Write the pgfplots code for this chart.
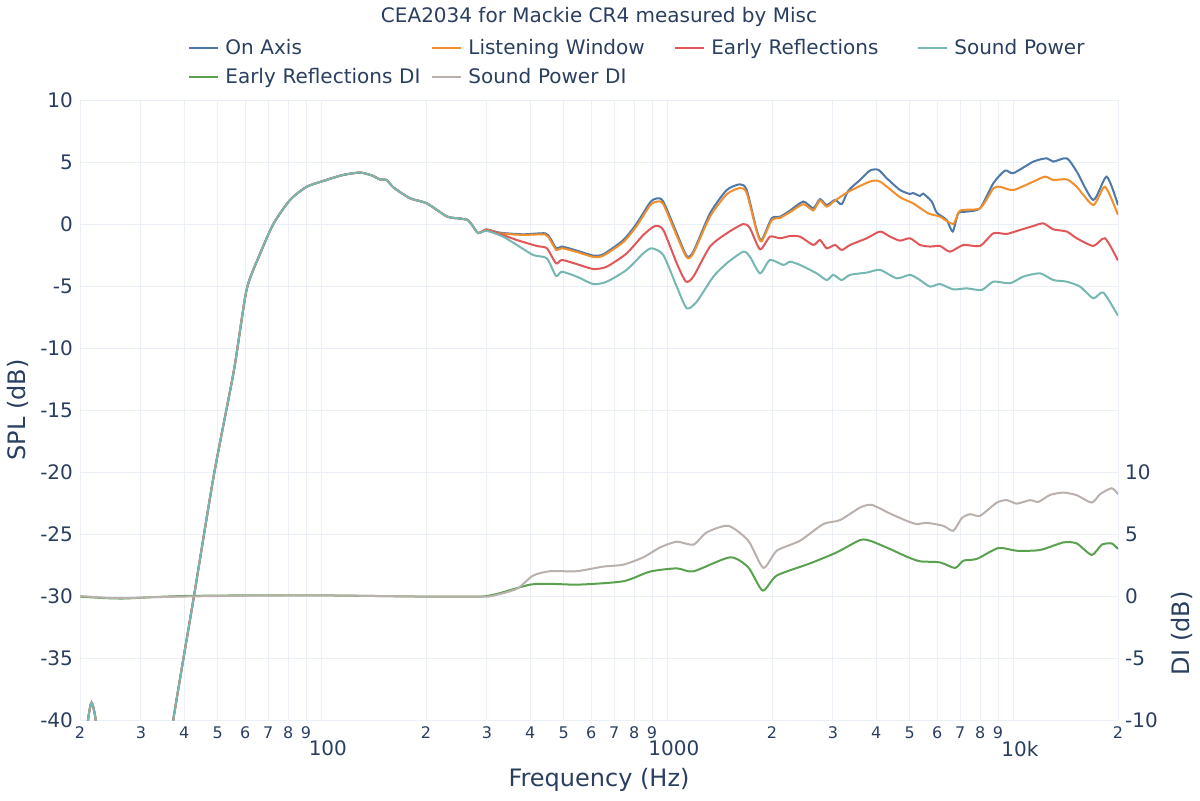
\documentclass[border=0pt]{standalone}
\usepackage{pgfplots}
\pgfplotsset{compat=1.18}
\usepackage{fontspec}
\setmainfont{DejaVu Sans}
\definecolor{onaxis}{HTML}{4E79A7}
\definecolor{lw}{HTML}{F28E2B}
\definecolor{er}{HTML}{E15759}
\definecolor{sp}{HTML}{76B7B2}
\definecolor{erdi}{HTML}{59A14F}
\definecolor{spdi}{HTML}{BAB0AC}
\definecolor{textc}{HTML}{2A3F5F}
\definecolor{gridc}{HTML}{EBF0F8}

\begin{document}
\begin{tikzpicture}
\path[use as bounding box] (0,0) rectangle (600pt,400pt);

\begin{axis}[
  at={(40pt,40pt)}, anchor=south west,
  scale only axis, width=519pt, height=310pt,
  xmode=log, xmin=20, xmax=20000,
  ymin=-40, ymax=10,
  axis line style={draw=none},
  major tick length=0pt, minor tick length=0pt,
  tick label style={color=textc},
  /pgf/number format/assume math mode=true,
  ytick={-40,-35,-30,-25,-20,-15,-10,-5,0,5,10},
  xtick={20,30,40,50,60,70,80,90,200,300,400,500,600,700,800,900,2000,3000,4000,5000,6000,7000,8000,9000,20000},
  xticklabels={2,3,4,5,6,7,8,9,2,3,4,5,6,7,8,9,2,3,4,5,6,7,8,9,2},
  extra x ticks={100,1000,10000},
  extra x tick labels={100,1000,10k},
  extra x tick style={grid=major, xticklabel style={yshift=-7pt, xshift=3pt, font=\fontsize{10}{12}\selectfont}},
  grid=major,
  major grid style={line width=0.5pt, color=gridc},
  xticklabel style={font=\fontsize{8}{10}\selectfont},
  yticklabel style={font=\fontsize{10}{12}\selectfont},
  xlabel={Frequency (Hz)},
  xlabel style={at={(axis description cs:0.5,0)}, anchor=center, yshift=-30pt, font=\fontsize{12}{14}\selectfont, color=textc},
  ylabel={SPL (dB)},
  ylabel style={at={(axis description cs:-0.0597,0.5)}, anchor=center, font=\fontsize{12}{14}\selectfont, color=textc},
  title={CEA2034 for Mackie CR4 measured by Misc},
  title style={at={(axis description cs:0.5,1)}, anchor=center, yshift=35.5pt, font=\fontsize{10}{12}\selectfont, color=textc},
  legend columns=4,
  legend style={at={(axis description cs:0.104,1.107)}, anchor=north west, draw=none, fill=none,
    inner sep=0pt, font=\fontsize{10}{12}\selectfont, text=textc,
    nodes={text width=100pt, inner xsep=3pt, inner ysep=2.6pt, align=left}},
  legend image code/.code={\draw[#1, line width=1pt] (0pt,0pt) -- (14.5pt,0pt);},
]
% On Axis
\addplot[onaxis, line width=1pt, smooth, tension=0.4] coordinates {
(20,-46) (20.5,-44) (21.1,-40) (21.6,-38.6) (22.2,-40) (22.8,-44) (26,-60) (33,-50)
(37.2,-40) (42.7,-30) (48.7,-20.3) (55.7,-11.8) (60.6,-5.3) (66.3,-2.4) (72.4,0.0)
(80.9,1.94) (90.4,3.0) (103,3.55) (115,3.95) (129,4.15) (140,3.9) (147,3.6) (154,3.55)
(161,2.95) (180,2.07) (201,1.67) (230,0.6) (250,0.45) (264,0.32) (272,-0.1) (283,-0.73) (299,-0.43)
(327,-0.7) (381,-0.83) (442,-0.75) (457,-1.15) (476,-1.96) (494,-1.82) (545,-2.14)
(609,-2.55) (651,-2.44) (744,-1.29) (813,0.05) (888,1.73) (929,2.07) (970,1.81)
(1061,-0.75) (1134,-2.58) (1185,-2.22) (1324,0.86) (1480,2.74) (1616,3.2) (1690,2.74)
(1806,-0.48) (1867,-1.29) (1996,0.46) (2110,0.59) (2254,1.08) (2463,1.81) (2632,1.27)
(2752,2.0) (2878,1.53) (3042,1.94) (3180,1.6) (3324,2.69) (3592,3.55) (3838,4.31)
(4058,4.37) (4292,3.69) (4688,2.74) (5010,2.42) (5112,2.5) (5354,2.26) (5470,2.45)
(5790,1.81) (5984,0.92) (6396,0.32) (6658,-0.61) (6912,0.87) (7310,1.0) (7986,1.27)
(8724,3.29) (9430,4.31) (9966,4.1) (11384,5.03) (12444,5.3) (13004,5.03) (14218,5.3)
(15196,4.23) (16968,1.94) (18552,3.82) (20000,1.53)
};
\addlegendentry{On Axis}
% Listening Window
\addplot[lw, line width=1pt, smooth, tension=0.4] coordinates {
(20,-46) (20.5,-44) (21.1,-40) (21.6,-38.6) (22.2,-40) (22.8,-44) (26,-60) (33,-50)
(37.2,-40) (42.7,-30) (48.7,-20.3) (55.7,-11.8) (60.6,-5.3) (66.3,-2.4) (72.4,0.0)
(80.9,1.94) (90.4,3.0) (103,3.55) (115,3.95) (129,4.15) (140,3.9) (147,3.6) (154,3.55)
(161,2.95) (180,2.07) (201,1.67) (230,0.6) (250,0.45) (264,0.32) (272,-0.1) (283,-0.73) (299,-0.45)
(327,-0.75) (381,-0.88) (442,-0.85) (457,-1.3) (476,-2.1) (494,-1.95) (545,-2.25)
(609,-2.65) (651,-2.55) (744,-1.45) (813,-0.15) (888,1.5) (929,1.81) (970,1.6)
(1061,-0.95) (1134,-2.7) (1185,-2.35) (1324,0.6) (1480,2.4) (1616,2.9) (1690,2.5)
(1806,-0.6) (1867,-1.4) (1996,0.3) (2110,0.5) (2254,0.95) (2463,1.6) (2632,1.1)
(2752,1.9) (2878,1.4) (3042,1.89) (3324,2.6) (3838,3.42) (4104,3.42) (4688,2.16)
(5112,1.67) (5648,0.87) (6116,0.59) (6684,0.0) (6990,1.08) (7986,1.27) (8724,2.87)
(9122,3.0) (9966,2.74) (11384,3.42) (12304,3.82) (13004,3.55) (14218,3.6) (15196,3.0)
(16968,1.53) (18344,3.0) (20000,0.73)
};
\addlegendentry{Listening Window}
% Early Reflections
\addplot[er, line width=1pt, smooth, tension=0.4] coordinates {
(20,-46) (20.5,-44) (21.1,-40) (21.6,-38.6) (22.2,-40) (22.8,-44) (26,-60) (33,-50)
(37.2,-40) (42.7,-30) (48.7,-20.3) (55.7,-11.8) (60.6,-5.3) (66.3,-2.4) (72.4,0.0)
(80.9,1.94) (90.4,3.0) (103,3.55) (115,3.95) (129,4.15) (140,3.9) (147,3.6) (154,3.55)
(161,2.95) (180,2.07) (201,1.67) (230,0.6) (250,0.45) (264,0.32) (272,-0.1) (283,-0.73) (299,-0.5)
(327,-0.8) (366,-1.29) (418,-1.77) (447,-1.96) (475,-3.17) (494,-2.9) (545,-3.23)
(609,-3.63) (666,-3.44) (760,-2.37) (849,-0.89) (918,-0.16) (970,-0.48) (1061,-3.17)
(1128,-4.64) (1185,-4.24) (1324,-1.82) (1480,-0.75) (1652,0.0) (1727,-0.34) (1847,-2.04)
(1973,-1.02) (2110,-1.15) (2254,-0.97) (2409,-1.02) (2632,-1.69) (2752,-1.29) (2878,-1.96)
(3042,-1.69) (3180,-2.1) (3362,-1.69) (3756,-1.15) (4104,-0.61) (4386,-1.02) (4688,-1.34)
(5010,-1.15) (5354,-1.69) (5724,-1.82) (6116,-1.77) (6538,-2.23) (7146,-1.69) (7986,-1.77)
(8724,-0.75) (9538,-0.8) (10422,-0.48) (11384,-0.16) (12168,0.05) (13004,-0.43)
(14218,-0.61) (15196,-1.15) (16968,-1.77) (18344,-1.15) (20000,-2.95)
};
\addlegendentry{Early Reflections}
% Sound Power
\addplot[sp, line width=1pt, smooth, tension=0.4] coordinates {
(20,-46) (20.5,-44) (21.1,-40) (21.6,-38.6) (22.2,-40) (22.8,-44) (26,-60) (33,-50)
(37.2,-40) (42.7,-30) (48.7,-20.3) (55.7,-11.8) (60.6,-5.3) (66.3,-2.4) (72.4,0.0)
(80.9,1.94) (90.4,3.0) (103,3.55) (115,3.95) (129,4.15) (140,3.9) (147,3.6) (154,3.55)
(161,2.95) (180,2.07) (201,1.67) (230,0.6) (250,0.45) (264,0.32) (272,-0.1) (283,-0.73) (299,-0.55)
(334,-1.02) (366,-1.69) (408,-2.5) (447,-2.77) (475,-4.19) (494,-3.85) (545,-4.24)
(609,-4.84) (666,-4.65) (760,-3.7) (849,-2.37) (898,-1.96) (970,-2.5) (1061,-5.05)
(1134,-6.8) (1212,-6.26) (1354,-4.24) (1480,-3.17) (1652,-2.23) (1727,-2.64) (1847,-3.98)
(1973,-2.9) (2156,-3.3) (2254,-3.04) (2409,-3.3) (2692,-3.98) (2878,-4.52) (3008,-4.1)
(3180,-4.52) (3362,-4.1) (3756,-3.92) (4104,-3.7) (4586,-4.38) (5010,-4.1) (5354,-4.52)
(5724,-5.05) (6116,-4.84) (6684,-5.27) (7310,-5.19) (8076,-5.32) (8724,-4.65) (9750,-4.78)
(10652,-4.24) (11904,-3.98) (13004,-4.52) (14218,-4.65) (15534,-5.05) (16968,-5.99)
(18138,-5.53) (20000,-7.4)
};
\addlegendentry{Sound Power}
\addlegendimage{erdi}
\addlegendentry{Early Reflections DI}
\addlegendimage{spdi}
\addlegendentry{Sound Power DI}
\end{axis}

\begin{axis}[
  at={(40pt,40pt)}, anchor=south west,
  scale only axis, width=519pt, height=310pt,
  xmode=log, xmin=20, xmax=20000,
  ymin=-10, ymax=40,
  ytick={-10,-5,0,5,10},
  axis y line*=right, hide x axis,
  axis line style={draw=none},
  major tick length=0pt,
  tick label style={color=textc},
  /pgf/number format/assume math mode=true,
  yticklabel style={font=\fontsize{10}{12}\selectfont},
  ylabel={DI (dB)},
  ylabel style={at={(axis description cs:1.0617,0.140)}, anchor=center, font=\fontsize{12}{14}\selectfont, color=textc},
]
% Early Reflections DI
\addplot[erdi, line width=1pt, smooth, tension=0.4] coordinates {
(20,-0.05) (24,-0.18) (27,-0.2) (32,-0.1) (40,0.0) (60,0.05) (100,0.05) (200,-0.05)
(280,-0.05) (300,0.0) (327,0.23) (400,0.92) (457,0.98) (555,0.92) (744,1.19) (888,1.97)
(1061,2.23) (1185,1.99) (1512,3.12) (1708,2.31) (1880,0.44) (2064,1.65) (2576,2.63)
(3076,3.52) (3592,4.51) (3838,4.46) (4386,3.79) (4902,3.17) (5354,2.8) (6116,2.71)
(6760,2.26) (7146,2.85) (7814,2.99) (9020,3.87) (10194,3.65) (11904,3.71) (13900,4.32)
(15196,4.24) (16790,3.31) (17946,4.14) (19180,4.24) (20000,3.79)
};
% Sound Power DI
\addplot[spdi, line width=1pt, smooth, tension=0.4] coordinates {
(20,0.0) (24,-0.15) (27,-0.18) (32,-0.1) (50,0.0) (100,0.05) (200,-0.05) (290,-0.05)
(310,0.0) (366,0.58) (408,1.65) (457,2.0) (545,2.0) (650,2.37) (744,2.53) (849,3.12)
(950,3.92) (1061,4.38) (1185,4.14) (1295,5.13) (1495,5.66) (1708,4.46) (1888,2.27)
(2064,3.65) (2409,4.46) (2813,5.8) (3144,6.12) (3592,7.13) (3882,7.35) (4386,6.65)
(4902,6.06) (5240,5.8) (5598,5.9) (6252,5.66) (6684,5.26) (7070,6.28) (7472,6.6)
(7986,6.47) (8924,7.53) (9538,7.73) (10194,7.45) (11138,7.73) (11770,7.59) (12722,8.15)
(13900,8.34) (15196,8.13) (16790,7.53) (17744,8.21) (19180,8.69) (20000,8.21)
};
\end{axis}
\end{tikzpicture}
\end{document}
